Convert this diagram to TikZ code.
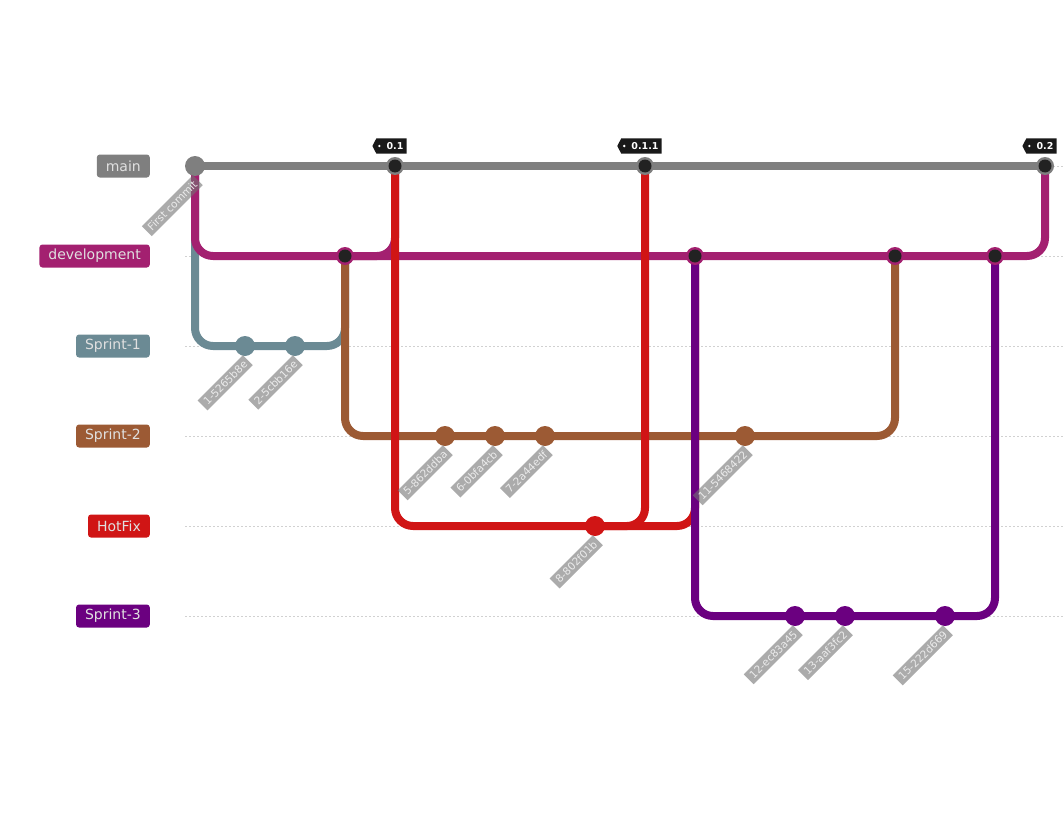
\documentclass[tikz,border=0pt]{standalone}
\usepackage{fontspec}
\setmainfont{DejaVu Sans}
\usetikzlibrary{backgrounds}
\definecolor{brmain}{HTML}{7F7F7F}
\definecolor{brdev}{HTML}{A32070}
\definecolor{brsone}{HTML}{6B8A94}
\definecolor{brstwo}{HTML}{9C5A34}
\definecolor{brhot}{HTML}{D01515}
\definecolor{brsthree}{HTML}{6B0080}
\definecolor{mergedot}{HTML}{222222}
\begin{document}
\begin{tikzpicture}[x=1pt,y=-1pt,
    lane/.style={black!18, line width=1pt, dash pattern=on 2pt off 2pt},
    branchline/.style={line width=8pt, rounded corners=18pt},
    branchlabel/.style={anchor=east, rounded corners=3pt, text=black!12, inner xsep=9pt, minimum height=23pt, font=\fontsize{14}{16}\selectfont},
    commitlabel/.style={anchor=east, rotate=45, fill=black!55, fill opacity=0.6, text opacity=1, text=black!8, inner xsep=3.5pt, inner ysep=3pt, font=\fontsize{10.5}{12}\selectfont},
    tagtext/.style={text=white, inner xsep=3pt, inner ysep=0pt, minimum height=15pt, font=\fontsize{9.5}{10}\selectfont\bfseries}]
        \useasboundingbox (0,0) rectangle (1063,816);
        % Lanes and branch names
        \foreach \y/\name/\col/\txt in {166/main/brmain/main, 256/dev/brdev/development, 346/sone/brsone/Sprint-1, 436/stwo/brstwo/Sprint-2, 526/hot/brhot/HotFix, 616/sthree/brsthree/Sprint-3} {
          \draw[lane] (185,\y) -- (1063,\y);
          \node[branchlabel, fill=\col] (lbl-\name) at (150,\y) {\txt};
        }
        % Commits
        \coordinate (c0) at (195,166);
        \coordinate (c1) at (245,346);
        \coordinate (c2) at (295,346);
        \coordinate (c3) at (345,256);
        \coordinate (c4) at (395,166);
        \coordinate (c5) at (445,436);
        \coordinate (c6) at (495,436);
        \coordinate (c7) at (545,436);
        \coordinate (c8) at (595,526);
        \coordinate (c9) at (645,166);
        \coordinate (c10) at (695,256);
        \coordinate (c11) at (745,436);
        \coordinate (c12) at (795,616);
        \coordinate (c13) at (845,616);
        \coordinate (c14) at (895,256);
        \coordinate (c15) at (945,616);
        \coordinate (c16) at (995,256);
        \coordinate (c17) at (1045,166);
        % Branch lines
        \draw[branchline, brmain] (c0) -- (c17);
        \draw[branchline, brsone] (c0) |- (c1) -- (c2) -| (c3);
        \draw[branchline, brdev] (c0) |- (c3) -- (c16) -| (c17);
        \draw[branchline, brdev] (c3) -| (c4);
        \draw[branchline, brstwo] (c3) |- (c5) -- (c11) -| (c14);
        \draw[branchline, brhot] (c8) -| (c10);
        \draw[branchline, brhot] (c4) |- (c8) -| (c9);
        \draw[branchline, brsthree] (c10) |- (c12) -- (c15) -| (c16);
        % Plain commits
        \fill[brmain] (c0) circle (10pt);
        \foreach \c/\col in {c1/brsone, c2/brsone, c5/brstwo, c6/brstwo, c7/brstwo, c11/brstwo, c8/brhot, c12/brsthree, c13/brsthree, c15/brsthree} {
          \fill[\col] (\c) circle (10pt);
        }
        % Merge commits
        \foreach \c/\col in {c4/brmain, c9/brmain, c17/brmain, c3/brdev, c10/brdev, c14/brdev, c16/brdev} {
          \fill[\col] (\c) circle (9pt);
          \fill[mergedot] (\c) circle (6.5pt);
        }
        % Commit ids
        \foreach \c/\txt in {c0/First commit, c1/1-5265b8e, c2/2-5cbb16e, c5/5-862ddba, c6/6-0bfa4cb, c7/7-2a44edf, c8/8-802f01b, c11/11-5468422, c12/12-ec83a45, c13/13-aaf3fc2, c15/15-222d669} {
          \node[commitlabel] (id-\c) at ([shift={(3,14)}]\c) {\txt};
        }
        % Tags
        \foreach \c/\txt in {c4/0.1, c9/0.1.1, c17/0.2} {
          \node[tagtext] (tag-\c) at ([shift={(0,-20)}]\c) {\txt};
          \begin{scope}[on background layer]
            \fill[black!90] ([xshift=-7pt]tag-\c.north west) -- (tag-\c.north east) -- (tag-\c.south east)
              -- ([xshift=-7pt]tag-\c.south west) -- ([xshift=-11pt]tag-\c.west) -- cycle;
            \fill[white] ([xshift=-4pt]tag-\c.west) circle (1.3pt);
          \end{scope}
        }
      \end{tikzpicture}
\end{document}
